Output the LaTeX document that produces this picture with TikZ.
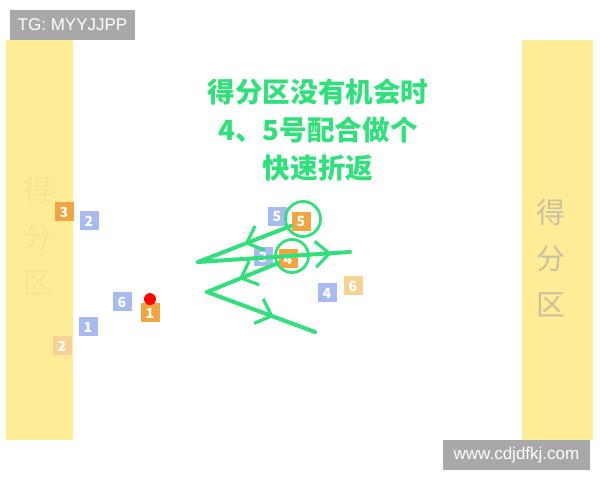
\documentclass[tikz,border=0pt]{standalone}
\usepackage{fontspec}
\setmainfont{Noto Sans CJK SC}
\newfontfamily\wmfont{Liberation Sans}
\usetikzlibrary{arrows.meta,decorations.markings}
\usetikzlibrary{positioning}
\definecolor{zoneyellow}{HTML}{FFEC96}
\definecolor{zonetext}{HTML}{C9C29E}
\definecolor{pitchgreen}{HTML}{30E07A}
\definecolor{homeorange}{HTML}{F2A441}
\definecolor{fadeorange}{HTML}{F6D296}
\definecolor{awayblue}{HTML}{A9B9F2}
\definecolor{wmgray}{HTML}{A8A8A8}
\tikzset{
    home/.style={
           rectangle,
           fill=homeorange,
           text=white,
           minimum size=9.5pt,
           inner sep=0pt,
           font=\fontsize{7}{7}\selectfont\bfseries,
           },
}
\tikzset{
    away/.style={
           home,
           fill=awayblue,
           },
}
\tikzset{
    ring/.style={
           circle,
           draw=pitchgreen, line width=1.4pt,
           inner sep=0pt,
           },
    run/.style={
           draw=pitchgreen, line width=2pt, line cap=round,
           postaction={decorate},
           decoration={markings,
             mark=at position #1 with {\arrow[line width=1.6pt]{Straight Barb[length=7pt,width=13pt]}}},
           },
    zonelabel/.style={
           text=#1,
           align=center,
           font=\fontsize{14.5}{23}\selectfont,
           },
    wm/.style={
           fill=wmgray,
           text=white,
           inner sep=0pt,
           font=\wmfont\fontsize{8.5}{10}\selectfont,
           },
}

\begin{document}
\begin{tikzpicture}[x=0.5pt,y=-0.5pt]
\useasboundingbox (0,0) rectangle (600,480);
% scoring zones
\fill[zoneyellow] (6,40) rectangle (73,440);
\fill[zoneyellow] (522,40) rectangle (593,440);
\node[zonelabel=zoneyellow!82!zonetext] (zl) at (38,236) {得\\分\\区};
\node[zonelabel=zonetext] (zr) at (551,258) {得\\分\\区};
% title
\node[text=pitchgreen,align=center,font=\fontsize{13.8}{19}\selectfont\bfseries] (title) at (318,130)
  {得分区没有机会时\\4、5号配合做个\\快速折返};
% players
\node[home] (h3) at (64,212) {3};
\node[away] (a2) at (89,221) {2};
\node[away] (a6) at (122,302) {6};
\node[home] (h1) at (150,313) {1};
\node[circle,fill=red,minimum size=6pt,inner sep=0pt,above=-1.2pt of h1] (ball) {};
\node[away] (a1) at (88,327) {1};
\node[home,fill=fadeorange] (h2) at (62,346) {2};
\node[away] (a5) at (277,217) {5};
\node[home] (h5) at (301,222) {5};
\node[away] (a3) at (263,257) {3};
\node[home] (h4) at (288,259) {4};
\node[away] (a4) at (327,293) {4};
\node[home,fill=fadeorange] (h6) at (353,286) {6};
% highlights
\node[ring,minimum size=17.5pt] (r5) at (303,219) {};
\node[ring,minimum size=16.5pt] (r4) at (292,256) {};
% runs
\coordinate (t1) at (198,262);
\coordinate (e1) at (350,252);
\coordinate (t2) at (207,292);
\coordinate (e2) at (315,332);
\draw[run=0.5] (h5) -- (t1);
\draw[run=0.88] (t1) -- (e1);
\draw[run=0.55] (h4) -- (t2);
\draw[run=0.62] (t2) -- (e2);
% watermarks
\node[wm,minimum width=62.5pt,minimum height=15pt] (tg) at (72.5,25) {TG: MYYJJPP};
\node[wm,minimum width=73.5pt,minimum height=15pt] (web) at (516.5,455) {www.cdjdfkj.com};
\end{tikzpicture}
\end{document}
